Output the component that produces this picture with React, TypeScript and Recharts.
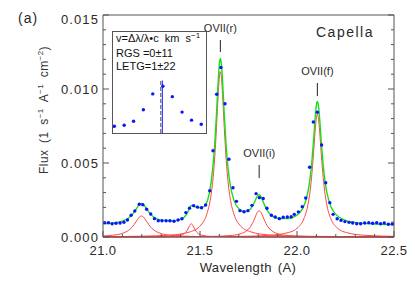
import React from "react";
import {
  ComposedChart,
  Line,
  ReferenceLine,
  Scatter,
  ScatterChart,
  XAxis,
  YAxis,
} from "recharts";

const FONT = "'Liberation Sans', Arial, Helvetica, sans-serif";
const AXIS = "#555";
const RED = "#ff4646";
const GREEN = "#18e018";
const BLUE = "#0a14ff";
const TEXT = "#2a2a2a";

const WIDTH = 407;
const HEIGHT = 289;

// tick positions
const waveTicks = [21.0, 21.1, 21.2, 21.3, 21.4, 21.5, 21.6, 21.7, 21.8, 21.9, 22.0, 22.1, 22.2, 22.3, 22.4, 22.5];
const fluxTicks = [0, 0.001, 0.002, 0.003, 0.004, 0.005, 0.006, 0.007, 0.008, 0.009, 0.01, 0.011, 0.012, 0.013, 0.014, 0.015];

// measured spectrum (blue points)
const dotWave = [
  21.009, 21.028, 21.047, 21.067, 21.088, 21.108, 21.126, 21.145, 21.164, 21.187,
  21.205, 21.225, 21.246, 21.265, 21.285, 21.304, 21.325, 21.345, 21.366, 21.387,
  21.407, 21.427, 21.446, 21.467, 21.487, 21.508, 21.529, 21.55, 21.567, 21.586,
  21.608, 21.629, 21.649, 21.67, 21.688, 21.706, 21.727, 21.747, 21.768, 21.789,
  21.806, 21.826, 21.845, 21.868, 21.888, 21.909, 21.929, 21.95, 21.97, 21.986,
  22.007, 22.027, 22.045, 22.065, 22.084, 22.105, 22.127, 22.148, 22.169, 22.186,
  22.207, 22.227, 22.247, 22.268, 22.287, 22.308, 22.328, 22.349, 22.37, 22.39,
  22.411, 22.431, 22.45, 22.471, 22.491,
];
const dotFlux = [
  0.00097, 0.00097, 0.0009, 0.00093, 0.00095, 0.001, 0.00115, 0.00147, 0.00176, 0.00221,
  0.00218, 0.00187, 0.00155, 0.00124, 0.0011, 0.0011, 0.0011, 0.0011, 0.00106, 0.00115,
  0.00123, 0.00165, 0.00195, 0.00212, 0.00202, 0.00198, 0.00216, 0.00313, 0.00583, 0.00965,
  0.01145, 0.009, 0.00525, 0.00333, 0.00241, 0.00178, 0.00171, 0.00178, 0.00214, 0.00293,
  0.00266, 0.0026, 0.00194, 0.00147, 0.00135, 0.00124, 0.00133, 0.00135, 0.00137, 0.00153,
  0.0017, 0.00205, 0.00264, 0.00471, 0.00777, 0.00843, 0.00622, 0.00367, 0.00232, 0.00153,
  0.00123, 0.00112, 0.00104, 0.00099, 0.00095, 0.0009, 0.0009, 0.00095, 0.00097, 0.00093,
  0.00097, 0.0009, 0.00095, 0.00086, 0.00088,
];

// total model (green)
const modelWave = [
  21.0, 21.05, 21.1, 21.13, 21.15, 21.17, 21.185, 21.198, 21.21, 21.225,
  21.245, 21.27, 21.3, 21.35, 21.4, 21.42, 21.44, 21.455, 21.47, 21.49,
  21.51, 21.53, 21.55, 21.565, 21.575, 21.585, 21.595, 21.6, 21.605, 21.61,
  21.615, 21.625, 21.635, 21.645, 21.655, 21.675, 21.7, 21.73, 21.76, 21.78,
  21.795, 21.805, 21.815, 21.83, 21.86, 21.9, 21.95, 22.0, 22.03, 22.05,
  22.065, 22.075, 22.085, 22.095, 22.1, 22.105, 22.11, 22.115, 22.125, 22.135,
  22.145, 22.155, 22.175, 22.2, 22.25, 22.3, 22.4, 22.5,
];
const modelFlux = [
  0.000885, 0.000941, 0.001076, 0.001267, 0.001502, 0.001866, 0.002155, 0.00227, 0.00218, 0.0019,
  0.001546, 0.001278, 0.00114, 0.001085, 0.001195, 0.001354, 0.001769, 0.002133, 0.00206, 0.00198,
  0.00199, 0.0022, 0.0031, 0.00457, 0.0061, 0.0083, 0.01081, 0.01172, 0.01207, 0.01173,
  0.01082, 0.00832, 0.00612, 0.0046, 0.00359, 0.00249, 0.001915, 0.001706, 0.001894, 0.00233,
  0.00274, 0.00285, 0.00271, 0.00224, 0.00156, 0.00127, 0.00124, 0.00148, 0.00195, 0.00267,
  0.00372, 0.00487, 0.00648, 0.00828, 0.00892, 0.00916, 0.00892, 0.00828, 0.00648, 0.00486,
  0.00371, 0.00294, 0.00204, 0.00153, 0.00113, 0.00099, 0.00088, 0.00084,
];

// line components (red)
const blendAWave = [21.0, 21.05, 21.1, 21.13, 21.15, 21.17, 21.185, 21.198, 21.21, 21.225, 21.245, 21.27, 21.3, 21.35, 21.4, 21.5, 21.7, 22.0, 22.5];
const blendAFlux = [0.00007, 0.00012, 0.000247, 0.000433, 0.000664, 0.001024, 0.00131, 0.00142, 0.001326, 0.001044, 0.000679, 0.000399, 0.000231, 0.000114, 0.000067, 0.000031, 0.000011, 0.0000045, 0.0000017];

const blendBWave = [21.0, 21.2, 21.3, 21.35, 21.4, 21.42, 21.435, 21.445, 21.455, 21.465, 21.475, 21.49, 21.51, 21.56, 21.65, 21.9, 22.5];
const blendBFlux = [0.000002, 0.000006, 0.000016, 0.000035, 0.000115, 0.000238, 0.000472, 0.000733, 0.0009, 0.000733, 0.000472, 0.000238, 0.000115, 0.000035, 0.00001, 0.000002, 0.0000004];

const ovrWave = [21.0, 21.2, 21.35, 21.45, 21.505, 21.535, 21.555, 21.565, 21.575, 21.585, 21.59, 21.595, 21.6, 21.605, 21.61, 21.615, 21.62, 21.625, 21.635, 21.645, 21.655, 21.675, 21.705, 21.755, 21.855, 22.005, 22.5];
const ovrFlux = [0.000024, 0.000053, 0.000133, 0.000353, 0.00081, 0.00154, 0.00267, 0.00367, 0.0052, 0.0074, 0.00868, 0.00991, 0.01082, 0.01117, 0.01082, 0.00991, 0.00868, 0.0074, 0.0052, 0.00367, 0.00267, 0.00154, 0.00081, 0.000376, 0.000138, 0.000055, 0.000011];

const oviWave = [21.0, 21.405, 21.555, 21.655, 21.705, 21.735, 21.755, 21.765, 21.775, 21.785, 21.795, 21.805, 21.815, 21.825, 21.835, 21.845, 21.855, 21.875, 21.905, 21.955, 22.055, 22.205, 22.5];
const oviFlux = [0.0000036, 0.000014, 0.000036, 0.000097, 0.000204, 0.000372, 0.000608, 0.000796, 0.00105, 0.00136, 0.00165, 0.00178, 0.00165, 0.00136, 0.00105, 0.000796, 0.000608, 0.000372, 0.000204, 0.000097, 0.000036, 0.000014, 0.0000048];

const ovfWave = [21.0, 21.4, 21.705, 21.855, 21.955, 22.005, 22.035, 22.055, 22.065, 22.075, 22.085, 22.09, 22.095, 22.1, 22.105, 22.11, 22.115, 22.12, 22.125, 22.135, 22.145, 22.155, 22.175, 22.205, 22.255, 22.355, 22.5];
const ovfFlux = [0.0000057, 0.000014, 0.000043, 0.00011, 0.000299, 0.000644, 0.00122, 0.00209, 0.00286, 0.00401, 0.00562, 0.00655, 0.00742, 0.00806, 0.0083, 0.00806, 0.00742, 0.00655, 0.00562, 0.00401, 0.00286, 0.00209, 0.00122, 0.000644, 0.000299, 0.00011, 0.0000445];

// line identification marks
const markWave = [21.605, 21.805, 22.105];
const markLow = [0.0125, 0.003986, 0.009527];
const markHigh = [0.01331, 0.004865, 0.010405];
const markNames = ["OVII(r)", "OVII(i)", "OVII(f)"];

// inset: velocity profile
const insetVel = [-489, -387, -290, -188, -91, 14, 112, 213, 311, 412];
const insetVal = [0.067, 0.077, 0.117, 0.23, 0.387, 0.463, 0.36, 0.207, 0.127, 0.087];
const rgsVel = -8;
const letgVel = 8;

const pairs = (xs: number[], ys: number[]) => xs.map((x, i) => ({ x, y: ys[i] }));

const isMajor = (v: number, step: number) =>
  Math.abs(v / step - Math.round(v / step)) < 1e-6;

function BottomTick(props: any) {
  const { x, y, payload } = props;
  const major = isMajor(payload.value, 0.5);
  return (
    <g>
      <line x1={x} x2={x} y1={y} y2={y - (major ? 6 : 3)} stroke={AXIS} />
      {major && (
        <text x={x} y={y + 18} textAnchor="middle" fontSize={13} fontFamily={FONT} fill={TEXT} letterSpacing={0.4}>
          {payload.value.toFixed(1)}
        </text>
      )}
    </g>
  );
}

function TopTick(props: any) {
  const { x, y, payload } = props;
  const major = isMajor(payload.value, 0.5);
  return <line x1={x} x2={x} y1={y} y2={y + (major ? 6 : 3)} stroke={AXIS} />;
}

function LeftTick(props: any) {
  const { x, y, payload } = props;
  const major = isMajor(payload.value, 0.005);
  // the top label sits just under the frame, as in the original
  const shift = payload.value > 0.0149 ? 4 : 0;
  return (
    <g>
      <line x1={x} x2={x + (major ? 6 : 3)} y1={y} y2={y} stroke={AXIS} />
      {major && (
        <text x={x - 4} y={y + 4.5 + shift} textAnchor="end" fontSize={13} fontFamily={FONT} fill={TEXT} letterSpacing={1.1}>
          {payload.value.toFixed(3)}
        </text>
      )}
    </g>
  );
}

function RightTick(props: any) {
  const { x, y, payload } = props;
  const major = isMajor(payload.value, 0.005);
  return <line x1={x} x2={x - (major ? 6 : 3)} y1={y} y2={y} stroke={AXIS} />;
}

const blueDot = (p: any) => <circle cx={p.cx} cy={p.cy} r={1.7} fill={BLUE} />;

const markLabel = (text: string) => (props: any) => {
  const vb = props.viewBox || {};
  return (
    <text
      x={(vb.x ?? 0) + (vb.width ?? 0) / 2}
      y={(vb.y ?? 0) - 8}
      textAnchor="middle"
      fontSize={11}
      fontFamily={FONT}
      fill={TEXT}
    >
      {text}
    </text>
  );
};

export default function App() {
  const components = [
    pairs(blendAWave, blendAFlux),
    pairs(blendBWave, blendBFlux),
    pairs(ovrWave, ovrFlux),
    pairs(oviWave, oviFlux),
    pairs(ovfWave, ovfFlux),
  ];

  return (
    <div style={{ position: "relative", width: WIDTH, height: HEIGHT, background: "#fff" }}>
      <ComposedChart width={WIDTH} height={HEIGHT} margin={{ top: 6, right: 20, bottom: 20, left: 0 }}>
        <XAxis
          dataKey="x"
          type="number"
          domain={[21, 22.5]}
          ticks={waveTicks}
          interval={0}
          tickSize={0}
          tickMargin={0}
          tickLine={false}
          tick={BottomTick}
          axisLine={{ stroke: AXIS }}
          height={40}
        />
        <XAxis
          xAxisId="top"
          orientation="top"
          type="number"
          domain={[21, 22.5]}
          allowDataOverflow
          ticks={waveTicks}
          interval={0}
          tickSize={0}
          tickMargin={0}
          tickLine={false}
          tick={TopTick}
          axisLine={{ stroke: AXIS }}
          height={1}
        />
        <YAxis
          dataKey="y"
          type="number"
          domain={[0, 0.015]}
          ticks={fluxTicks}
          interval={0}
          tickSize={0}
          tickMargin={0}
          tickLine={false}
          tick={LeftTick}
          axisLine={{ stroke: AXIS }}
          width={95}
        />
        <YAxis
          yAxisId="right"
          orientation="right"
          type="number"
          domain={[0, 0.015]}
          allowDataOverflow
          ticks={fluxTicks}
          interval={0}
          tickSize={0}
          tickMargin={0}
          tickLine={false}
          tick={RightTick}
          axisLine={{ stroke: AXIS }}
          width={1}
        />

        {components.map((d, i) => (
          <Line
            key={`comp-${i}`}
            data={d}
            dataKey="y"
            type="monotone"
            stroke={RED}
            strokeWidth={1}
            dot={false}
            activeDot={false}
            isAnimationActive={false}
          />
        ))}
        <Line
          data={pairs(modelWave, modelFlux)}
          dataKey="y"
          type="monotone"
          stroke={GREEN}
          strokeWidth={1.4}
          dot={false}
          activeDot={false}
          isAnimationActive={false}
        />
        <Scatter data={pairs(dotWave, dotFlux)} shape={blueDot} isAnimationActive={false} />

        {markWave.map((w, i) => (
          <ReferenceLine
            key={markNames[i]}
            segment={[
              { x: w, y: markLow[i] },
              { x: w, y: markHigh[i] },
            ]}
            stroke="#222"
            label={markLabel(markNames[i])}
          />
        ))}
      </ComposedChart>

      <div
        style={{
          position: "absolute",
          left: 104,
          top: 23,
          width: 95,
          height: 103,
          border: `1px solid ${AXIS}`,
          boxSizing: "border-box",
          background: "#fff",
        }}
      >
        <ScatterChart width={93} height={101} margin={{ top: 0, right: 0, bottom: 0, left: 0 }}>
          <XAxis dataKey="x" type="number" domain={[-503, 461]} hide />
          <YAxis dataKey="y" type="number" domain={[0, 1]} hide />
          <ReferenceLine segment={[{ x: letgVel, y: 0 }, { x: letgVel, y: 0.52 }]} stroke={BLUE} />
          <ReferenceLine segment={[{ x: rgsVel, y: 0 }, { x: rgsVel, y: 0.53 }]} stroke="#555" strokeDasharray="4 2" />
          <Scatter data={pairs(insetVel, insetVal)} shape={blueDot} isAnimationActive={false} />
        </ScatterChart>
      </div>

      <svg
        width={WIDTH}
        height={HEIGHT}
        style={{ position: "absolute", left: 0, top: 0, pointerEvents: "none" }}
        fontFamily={FONT}
      >
        <text x={10} y={15} fontSize={14} fill={TEXT} letterSpacing={1}>(a)</text>
        <text x={308} y={29} fontSize={14} fill={TEXT} letterSpacing={1.5}>Capella</text>
        <text
          transform="translate(40,102) rotate(-90)"
          textAnchor="middle"
          fontSize={12}
          fill="#333"
          letterSpacing={0.4}
          wordSpacing={3}
        >
          Flux (1 s<tspan dy={-5} fontSize={8}>−1</tspan>
          <tspan dy={5}> A</tspan>
          <tspan dy={-5} fontSize={8}>−1</tspan>
          <tspan dy={5}> cm</tspan>
          <tspan dy={-5} fontSize={8}>−2</tspan>
          <tspan dy={5}>)</tspan>
        </text>
        <text x={240} y={264} textAnchor="middle" fontSize={13} fill={TEXT} letterSpacing={0.4} wordSpacing={2}>
          Wavelength (A)
        </text>
        <text x={108} y={34} fontSize={11} fill="#111" wordSpacing={3}>
          v=Δλ/λ•c km s<tspan dy={-4} fontSize={8}>−1</tspan>
        </text>
        <text x={108} y={49} fontSize={11} fill="#111">RGS =0±11</text>
        <text x={108} y={62} fontSize={11} fill="#111">LETG=1±22</text>
      </svg>
    </div>
  );
}
